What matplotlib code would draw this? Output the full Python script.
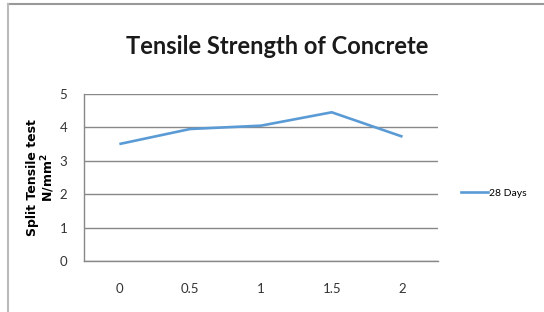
import matplotlib
matplotlib.use('Agg')
import matplotlib.pyplot as plt
from matplotlib.lines import Line2D

# === Data ===
categories = ['0', '0.5', '1', '1.5', '2']
strength_28d = [3.5, 3.95, 4.05, 4.45, 3.72]
series_name = '28 Days'

narrow = ['Lato', 'DejaVu Sans']

fig = plt.figure(figsize=(5.44, 3.12), dpi=100)
ax = fig.add_axes([0.1544, 0.1635, 0.6506, 0.5355])

x = range(len(categories))
ax.plot(x, strength_28d, color='#5B9BD5', lw=1.9, solid_capstyle='butt')

ax.set_xlim(-0.5, len(categories) - 0.5)
ax.set_ylim(0, 5)
ax.set_xticks(list(x))
ax.set_xticklabels(categories, family=narrow, fontsize=9.5, color='#333333')
ax.set_yticks(range(6))
ax.set_yticklabels([str(v) for v in range(6)], family=narrow, fontsize=9.5, color='#333333')
ax.tick_params(length=0, pad=12)
ax.tick_params(axis='x', pad=16)

ax.grid(axis='y', color='#888888', lw=1)
ax.set_axisbelow(True)
for s in ['top', 'right']:
    ax.spines[s].set_visible(False)
for s in ['left', 'bottom']:
    ax.spines[s].set_color('#888888')
    ax.spines[s].set_linewidth(1)

ax.set_ylabel('Split Tensile test\nN/mm$^\\mathbf{2}$', fontsize=9, fontweight='bold',
              family=['DejaVu Sans'], labelpad=2, linespacing=1.0)

fig.text(0.51, 0.85, 'Tensile Strength of Concrete', ha='center', va='center',
         family=narrow, fontsize=17, fontweight='bold', color='#1a1a1a')

# legend
fig.legend(handles=[Line2D([], [], color='#5B9BD5', lw=1.9)], labels=[series_name],
           loc='center left', bbox_to_anchor=(0.83, 0.38), frameon=False,
           prop={'family': narrow, 'size': 7.5}, handlelength=2.6, handletextpad=0.1)

# outer border
fig.add_artist(Line2D([0.0138, 1.0], [0.986, 0.986], color='#999999', lw=1.5))
fig.add_artist(Line2D([0.0138, 0.0138], [0.0, 0.986], color='#bbbbbb', lw=1.5))

plt.savefig('out.png', dpi=100)
plt.close()
